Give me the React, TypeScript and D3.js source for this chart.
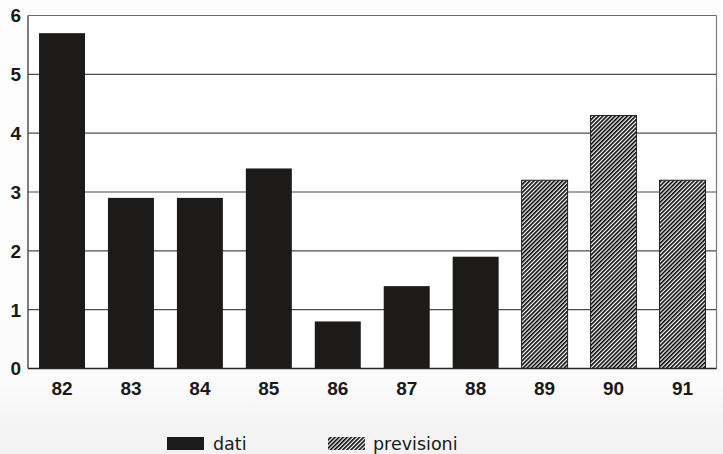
import React from "react";
import * as d3 from "d3";

// Annual values (years 1982–1991): recorded data and forecasts
const datiYears = ["82", "83", "84", "85", "86", "87", "88"];
const datiValues = [5.7, 2.9, 2.9, 3.4, 0.8, 1.4, 1.9];
const previsioniYears = ["89", "90", "91"];
const previsioniValues = [3.2, 4.3, 3.2];
const yTicks = [0, 1, 2, 3, 4, 5, 6];
const legendLabels = ["dati", "previsioni"];

const W = 723;
const H = 454;
const plot = { left: 28, right: 716.5, top: 15.5, bottom: 368.5 };

export default function App() {
  const categories = [...datiYears, ...previsioniYears];
  const x = d3
    .scaleBand<string>()
    .domain(categories)
    .range([plot.left, plot.right])
    .paddingInner(0.333)
    .paddingOuter(0.16);
  const y = d3.scaleLinear().domain([0, 6]).range([plot.bottom, plot.top]);

  const dati = datiYears.map((k, i) => ({ k, v: datiValues[i] }));
  const prev = previsioniYears.map((k, i) => ({ k, v: previsioniValues[i] }));

  const tickFont = "'Liberation Sans', Arial, sans-serif";
  const legendFont = "'DejaVu Sans', sans-serif";
  const barColor = "#1d1b19";

  return (
    <svg
      width={W}
      height={H}
      style={{ position: "absolute", left: 0, top: 0, display: "block" }}
    >
      <defs>
        <linearGradient id="bg" x1="0" y1="0" x2="0" y2="1">
          <stop offset="0" stopColor="#fdfdfd" />
          <stop offset="0.85" stopColor="#fbfbfb" />
          <stop offset="0.92" stopColor="#f5f5f5" />
          <stop offset="1" stopColor="#f2f2f2" />
        </linearGradient>
        <pattern
          id="hatch"
          patternUnits="userSpaceOnUse"
          width={2.9}
          height={10}
          patternTransform="rotate(45)"
        >
          <rect x={0} y={0} width={1.6} height={10} fill="#000000" />
        </pattern>
      </defs>

      <rect x={0} y={0} width={W} height={H} fill="url(#bg)" />
      <rect
        x={plot.left}
        y={plot.top}
        width={plot.right - plot.left}
        height={plot.bottom - plot.top}
        fill="#ffffff"
      />

      {/* horizontal gridlines */}
      {yTicks
        .filter((t) => t > 0 && t < 6)
        .map((t) => (
          <line
            key={`g${t}`}
            x1={plot.left}
            x2={plot.right}
            y1={y(t)}
            y2={y(t)}
            stroke="#4d4d4d"
            strokeWidth={1.2}
          />
        ))}

      {/* frame */}
      <line x1={plot.left} x2={plot.right} y1={y(6)} y2={y(6)} stroke="#6a6a6a" strokeWidth={1.2} />
      <line x1={plot.right} x2={plot.right} y1={plot.top} y2={plot.bottom} stroke="#7a7a7a" strokeWidth={1.2} />
      <line x1={plot.left} x2={plot.left} y1={plot.top} y2={plot.bottom} stroke="#3a3a3a" strokeWidth={1.3} />

      {/* recorded data bars */}
      {dati.map((d) => (
        <rect
          key={d.k}
          x={x(d.k)}
          y={y(d.v)}
          width={x.bandwidth()}
          height={y(0) - y(d.v)}
          fill={barColor}
        />
      ))}

      {/* forecast bars */}
      {prev.map((d) => (
        <g key={d.k}>
          <rect
            x={x(d.k)}
            y={y(d.v)}
            width={x.bandwidth()}
            height={y(0) - y(d.v)}
            fill="#ffffff"
          />
          <rect
            x={x(d.k)}
            y={y(d.v)}
            width={x.bandwidth()}
            height={y(0) - y(d.v)}
            fill="url(#hatch)"
            stroke="#222"
            strokeWidth={1}
          />
        </g>
      ))}

      {/* baseline */}
      <line x1={plot.left} x2={plot.right} y1={y(0)} y2={y(0)} stroke="#222" strokeWidth={1.4} />

      {/* y tick labels */}
      {yTicks.map((t) => (
        <text
          key={`y${t}`}
          x={21}
          y={y(t)}
          dy="0.36em"
          textAnchor="end"
          fontFamily={tickFont}
          fontWeight="bold"
          fontSize={19}
          fill="#1a1a1a"
        >
          {t}
        </text>
      ))}

      {/* x tick labels */}
      {categories.map((c) => (
        <text
          key={`x${c}`}
          x={(x(c) ?? 0) + x.bandwidth() / 2}
          y={395}
          textAnchor="middle"
          fontFamily={tickFont}
          fontWeight="bold"
          fontSize={19}
          fill="#1a1a1a"
        >
          {c}
        </text>
      ))}

      {/* legend */}
      <rect x={167} y={437} width={37} height={13} fill={barColor} />
      <text x={213} y={450} fontFamily={legendFont} fontSize={17.5} fill="#1a1a1a">
        {legendLabels[0]}
      </text>
      <rect x={328} y={437} width={37} height={13} fill="#ffffff" />
      <rect x={328} y={437} width={37} height={13} fill="url(#hatch)" />
      <text x={373} y={450} fontFamily={legendFont} fontSize={17.5} fill="#1a1a1a">
        {legendLabels[1]}
      </text>
    </svg>
  );
}
